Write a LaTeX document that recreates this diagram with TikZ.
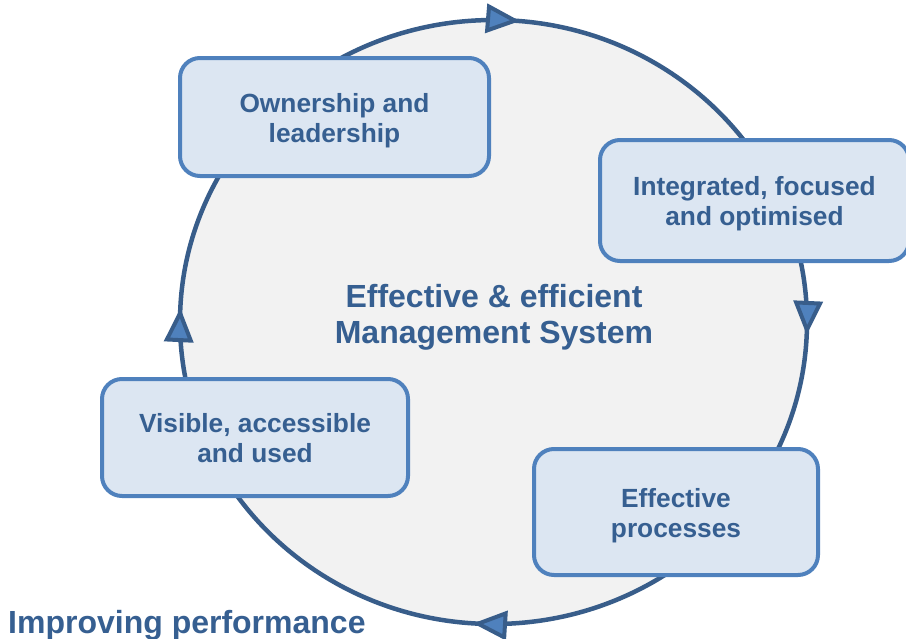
\documentclass[tikz,border=0pt]{standalone}
\usepackage{fontspec}
\setmainfont{Liberation Sans}
\usetikzlibrary{arrows.meta,decorations.markings}
\definecolor{ringblue}{RGB}{56,93,138}
\definecolor{tipblue}{RGB}{79,129,189}
\definecolor{boxfill}{RGB}{220,230,242}
\definecolor{txtblue}{RGB}{54,95,145}
\definecolor{ringfill}{RGB}{242,242,242}
\begin{document}
\begin{tikzpicture}[x=1pt, y=-1pt,
        ringtip/.tip={Triangle[length=34pt, width=29pt, line width=4pt, fill=tipblue]},
        stage/.style={draw=tipblue, line width=4pt, fill=boxfill, rounded corners=20pt,
            align=center, text=txtblue, inner sep=0pt, text height=50pt, text depth=0pt,
            font=\bfseries\fontsize{26.3}{30}\selectfont}]
            \useasboundingbox (0,0) rectangle (906,638);
            % the cycle
            \draw[ringblue, fill=ringfill, line width=4.5pt,
                postaction={decorate, decoration={markings,
                    mark=at position 0.0067 with {\arrow{ringtip}},
                    mark=at position 0.2606 with {\arrow{ringtip}},
                    mark=at position 0.5072 with {\arrow{ringtip}},
                    mark=at position 0.7637 with {\arrow{ringtip}}}}]
                (493.5,322) ellipse [x radius=313.5, y radius=302];
            \node[align=center, text=txtblue, font=\bfseries\fontsize{32}{36}\selectfont] (core) at (494,317)
                {Effective \& efficient\\Management System};
            \foreach \name/\cx/\cy/\w/\h/\txt in {
                own/334.5/117/309/118/{Ownership and\\leadership},
                integ/754.5/200.5/309/121/{Integrated, focused\\and optimised},
                proc/676/512/284/126/{Effective\\processes},
                vis/255/437.5/306/117/{Visible, accessible\\and used}}{
                \node[stage, minimum width=\w pt, minimum height=\h pt] (\name) at (\cx,\cy) {\txt};
            }
            \node[anchor=base west, inner sep=0pt, text=txtblue, font=\bfseries\fontsize{32}{36}\selectfont] (perf) at (8,633)
                {Improving performance};
        \end{tikzpicture}
\end{document}
